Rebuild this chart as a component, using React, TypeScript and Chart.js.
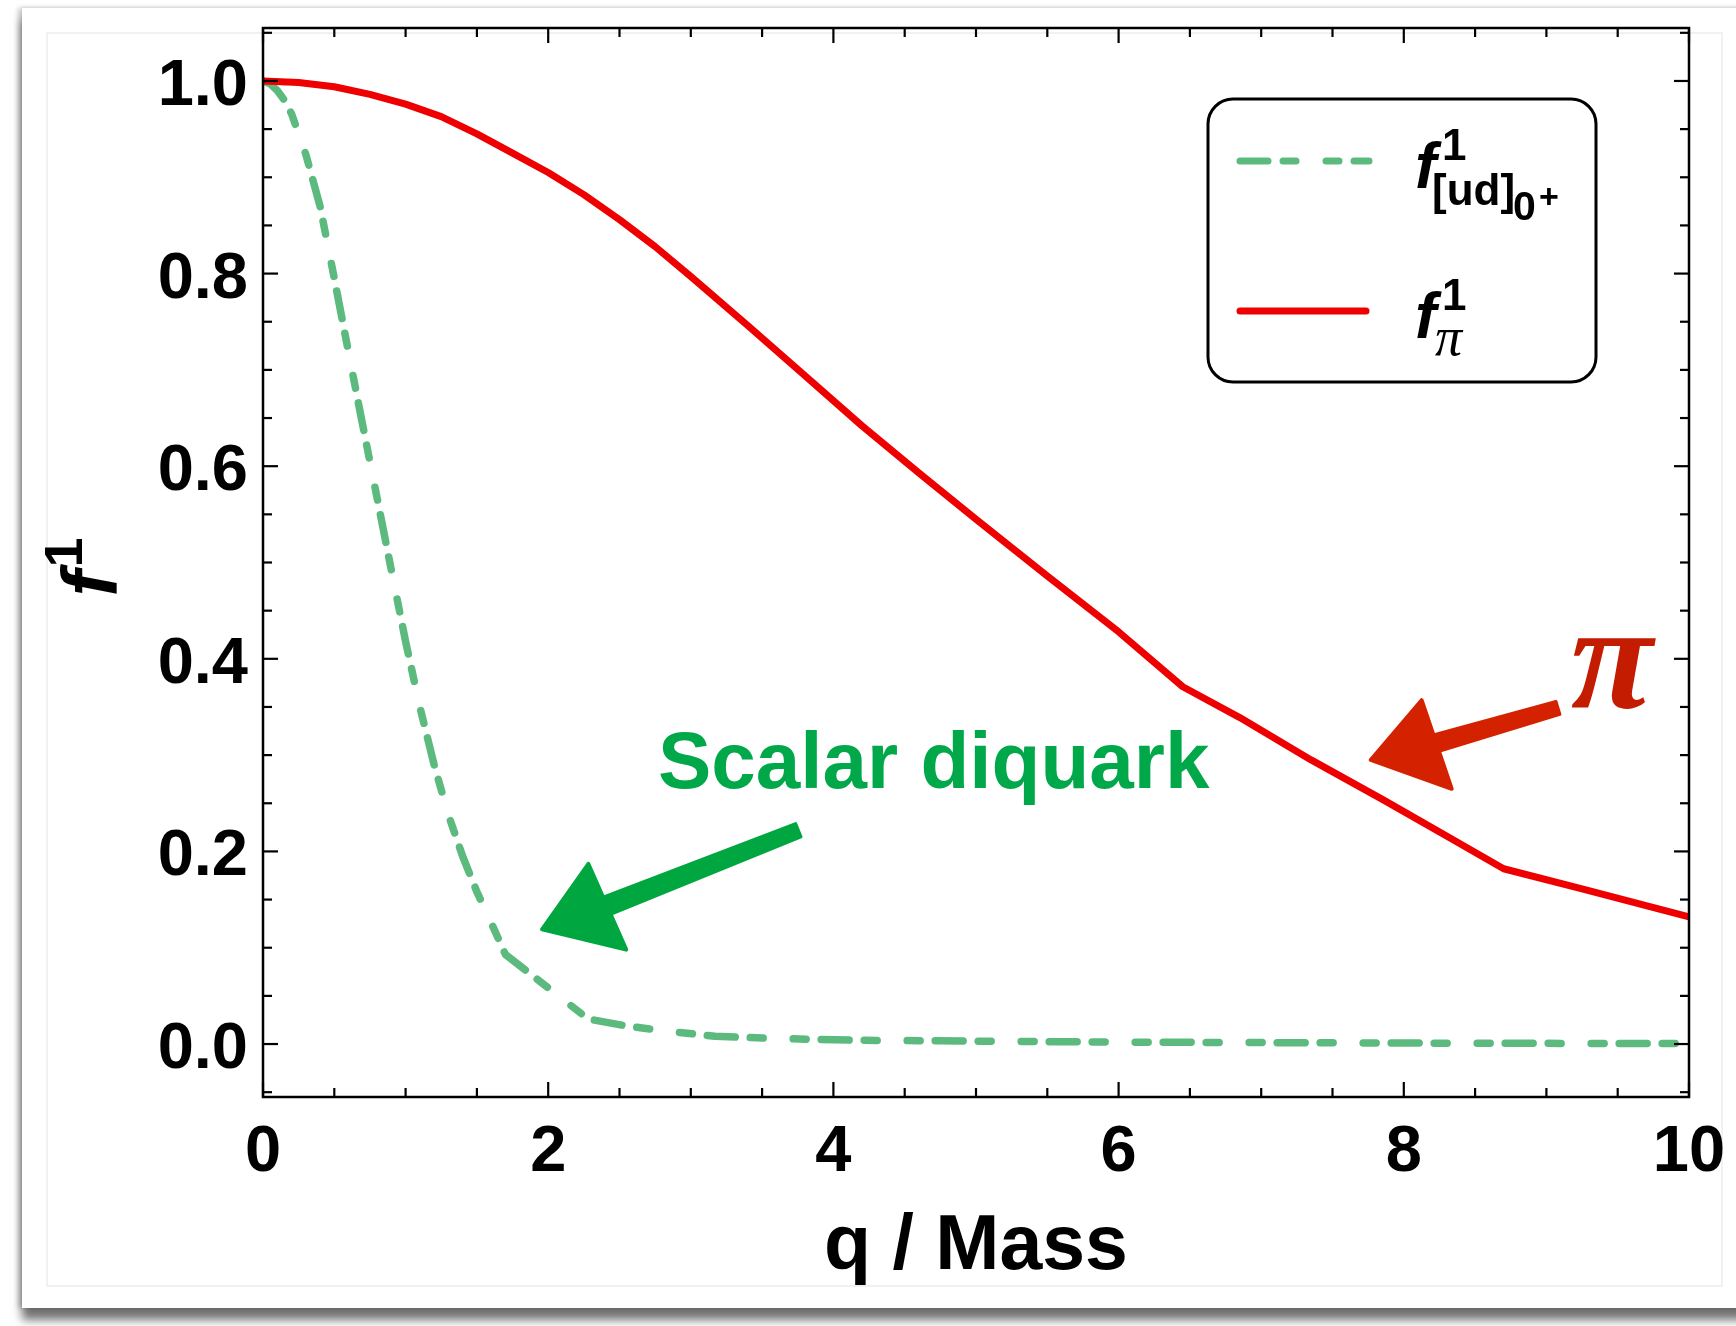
import React, { useEffect, useRef } from "react";
import { Chart, registerables } from "chart.js";

Chart.register(...registerables);

const W = 1736;
const H = 1326;

// ---- data ----
const qPion = [0, 0.25, 0.5, 0.75, 1.0, 1.25, 1.5, 1.75, 2.0, 2.25, 2.5, 2.75, 3.0, 3.4, 3.8, 4.2, 4.6, 5.0, 5.5, 6.0, 6.45, 6.85, 7.35, 7.85, 8.3, 8.7, 9.25, 10.0];
const f1Pion = [1.0, 0.9985, 0.994, 0.986, 0.976, 0.963, 0.945, 0.925, 0.905, 0.882, 0.856, 0.828, 0.797, 0.746, 0.694, 0.642, 0.593, 0.545, 0.486, 0.428, 0.371, 0.339, 0.295, 0.254, 0.216, 0.182, 0.161, 0.132];

const qDiquark = [0, 0.05, 0.1, 0.15, 0.2, 0.3, 0.4, 0.5, 0.6, 0.7, 0.8, 0.9, 1.0, 1.1, 1.2, 1.3, 1.4, 1.5, 1.6, 1.7, 2.28, 2.54, 2.74, 3.17, 3.54, 4.13, 5, 6, 7, 8, 9, 10];
const f1Diquark = [1.0, 0.997, 0.99, 0.98, 0.966, 0.924, 0.87, 0.795, 0.718, 0.642, 0.567, 0.492, 0.418, 0.35, 0.29, 0.238, 0.195, 0.158, 0.126, 0.093, 0.026, 0.019, 0.015, 0.008, 0.006, 0.004, 0.003, 0.002, 0.0015, 0.001, 0.0007, 0.0005];

const xMajorTicks = [0, 2, 4, 6, 8, 10];
const xTickLabels = ["0", "2", "4", "6", "8", "10"];
const xMinorTicks = [0.5, 1, 1.5, 2.5, 3, 3.5, 4.5, 5, 5.5, 6.5, 7, 7.5, 8.5, 9, 9.5];
const yMajorTicks = [0, 0.2, 0.4, 0.6, 0.8, 1.0];
const yTickLabels = ["0.0", "0.2", "0.4", "0.6", "0.8", "1.0"];
const yMinorTicks = [-0.05, 0.05, 0.1, 0.15, 0.25, 0.3, 0.35, 0.45, 0.5, 0.55, 0.65, 0.7, 0.75, 0.85, 0.9, 0.95, 1.05];

const xTitle = "q / Mass";
const annotationDiquark = "Scalar diquark";
const annotationPion = "\u03C0";

const SANS = '"Liberation Sans", Arial, Helvetica, sans-serif';
const SERIF = '"Liberation Serif", "Times New Roman", serif';
const GREEN_LINE = "#5cba7f";
const RED_LINE = "#ee0000";
const GREEN_TEXT = "#00a84a";
const GREEN_ARROW = "#00a640";
const RED_TEXT = "#c41c00";
const RED_ARROW = "#d42200";
const DASH = [28, 15, 13, 30, 13, 15];

const overlayPlugin = {
  id: "overlay",
  afterDatasetsDraw(chart: any) {
    const ctx: CanvasRenderingContext2D = chart.ctx;
    const xs = chart.scales.x;
    const ys = chart.scales.y;
    const { left, right, top, bottom } = chart.chartArea;
    const X = (v: number) => xs.getPixelForValue(v);
    const Y = (v: number) => ys.getPixelForValue(v);
    ctx.save();

    // ---- arrows ----
    const arrow = (tip: number[], hTop: number[], hBot: number[], tail: number[], width: number, color: string) => {
      const t = [X(tip[0]), Y(tip[1])];
      const a = [X(hTop[0]), Y(hTop[1])];
      const b = [X(hBot[0]), Y(hBot[1])];
      const e = [X(tail[0]), Y(tail[1])];
      const m = [(a[0] + b[0]) / 2, (a[1] + b[1]) / 2];
      ctx.fillStyle = color;
      ctx.strokeStyle = color;
      ctx.setLineDash([]);
      ctx.lineJoin = "round";
      ctx.lineCap = "round";
      const dx = e[0] - m[0];
      const dy = e[1] - m[1];
      const len = Math.hypot(dx, dy);
      const nx = -dy / len;
      const ny = dx / len;
      const w0 = width * 0.6;
      const w1 = width * 0.45;
      const s = [t[0] + (m[0] - t[0]) * 0.6, t[1] + (m[1] - t[1]) * 0.6];
      ctx.beginPath();
      ctx.moveTo(s[0] + nx * w0, s[1] + ny * w0);
      ctx.lineTo(e[0] + nx * w1, e[1] + ny * w1);
      ctx.lineTo(e[0] - nx * w1, e[1] - ny * w1);
      ctx.lineTo(s[0] - nx * w0, s[1] - ny * w0);
      ctx.closePath();
      ctx.fill();
      ctx.lineWidth = 3;
      ctx.stroke();
      ctx.lineWidth = 4;
      ctx.beginPath();
      ctx.moveTo(t[0], t[1]);
      ctx.lineTo(a[0], a[1]);
      ctx.lineTo(b[0], b[1]);
      ctx.closePath();
      ctx.fill();
      ctx.stroke();
    };
    arrow([1.957, 0.119], [2.282, 0.187], [2.547, 0.098], [3.754, 0.222], 16, GREEN_ARROW);
    arrow([7.768, 0.295], [8.125, 0.357], [8.336, 0.265], [9.081, 0.349], 15, RED_ARROW);

    // ---- annotation texts ----
    ctx.textBaseline = "alphabetic";
    ctx.textAlign = "left";
    ctx.fillStyle = GREEN_TEXT;
    ctx.font = `bold 80px ${SANS}`;
    ctx.fillText(annotationDiquark, X(2.77), Y(0.266));
    ctx.fillStyle = RED_TEXT;
    ctx.font = `italic bold 150px ${SERIF}`;
    ctx.fillText(annotationPion, X(9.17), Y(0.349));

    // ---- frame ----
    ctx.strokeStyle = "#000";
    ctx.lineCap = "butt";
    ctx.lineJoin = "miter";
    ctx.lineWidth = 2.5;
    ctx.strokeRect(left, top, right - left, bottom - top);

    // ---- ticks (inside, on all four sides) ----
    ctx.lineWidth = 2.2;
    const seg = (x1: number, y1: number, x2: number, y2: number) => {
      ctx.beginPath();
      ctx.moveTo(x1, y1);
      ctx.lineTo(x2, y2);
      ctx.stroke();
    };
    const xTick = (v: number, len: number) => {
      seg(X(v), bottom, X(v), bottom - len);
      seg(X(v), top, X(v), top + len);
    };
    const yTick = (v: number, len: number) => {
      seg(left, Y(v), left + len, Y(v));
      seg(right, Y(v), right - len, Y(v));
    };
    xMajorTicks.forEach((v) => xTick(v, 15));
    xMinorTicks.forEach((v) => xTick(v, 9));
    yMajorTicks.forEach((v) => yTick(v, 15));
    yMinorTicks.forEach((v) => yTick(v, 9));

    // ---- tick labels ----
    ctx.fillStyle = "#000";
    ctx.font = `bold 65px ${SANS}`;
    ctx.textAlign = "right";
    yMajorTicks.forEach((v, i) => ctx.fillText(yTickLabels[i], left - 15, Y(v) + 24));
    ctx.textAlign = "center";
    xMajorTicks.forEach((v, i) => ctx.fillText(xTickLabels[i], X(v), bottom + 74));

    // ---- axis titles ----
    ctx.font = `bold 77px ${SANS}`;
    ctx.fillText(xTitle, (left + right) / 2, bottom + 172);

    ctx.save();
    ctx.translate(left - 146, (top + bottom) / 2 + 34);
    ctx.rotate(-Math.PI / 2);
    ctx.textAlign = "left";
    ctx.font = `italic bold 78px ${SANS}`;
    ctx.fillText("f", 0, 0);
    ctx.font = `bold 54px ${SANS}`;
    ctx.fillText("1", 29, -35);
    ctx.restore();

    // ---- legend ----
    const lx = right - 481;
    const ly = top + 71;
    ctx.beginPath();
    ctx.roundRect(lx, ly, 388, 283, 25);
    ctx.fillStyle = "#fff";
    ctx.fill();
    ctx.lineWidth = 3;
    ctx.strokeStyle = "#000";
    ctx.stroke();

    ctx.lineWidth = 7;
    ctx.lineCap = "round";
    ctx.strokeStyle = GREEN_LINE;
    ctx.setLineDash(DASH);
    seg(lx + 32, ly + 62, lx + 161, ly + 62);
    ctx.setLineDash([]);
    ctx.strokeStyle = RED_LINE;
    seg(lx + 32, ly + 212, lx + 158, ly + 212);

    ctx.fillStyle = "#000";
    ctx.textAlign = "left";
    // f^1_[ud]0+
    ctx.font = `italic bold 64px ${SANS}`;
    ctx.fillText("f", lx + 207, ly + 89);
    ctx.font = `bold 44px ${SANS}`;
    ctx.fillText("1", lx + 234, ly + 61);
    ctx.font = `bold 44px ${SANS}`;
    ctx.fillText("[ud]", lx + 224, ly + 106);
    ctx.font = `bold 41px ${SANS}`;
    ctx.fillText("0", lx + 305, ly + 121);
    ctx.font = `bold 34px ${SANS}`;
    ctx.fillText("+", lx + 331, ly + 109);
    // f^1_pi
    ctx.font = `italic bold 64px ${SANS}`;
    ctx.fillText("f", lx + 207, ly + 239);
    ctx.font = `bold 44px ${SANS}`;
    ctx.fillText("1", lx + 234, ly + 211);
    ctx.font = `italic 54px ${SERIF}`;
    ctx.fillText("\u03C0", lx + 227, ly + 256);

    ctx.restore();
  },
};

export default function App() {
  const ref = useRef<HTMLCanvasElement | null>(null);

  useEffect(() => {
    if (!ref.current) return;
    const chart = new Chart(ref.current, {
      type: "line",
      data: {
        datasets: [
          {
            label: "f1_pi",
            data: qPion.map((q, i) => ({ x: q, y: f1Pion[i] })),
            borderColor: RED_LINE,
            borderWidth: 7,
            borderCapStyle: "round",
            borderJoinStyle: "round",
            pointRadius: 0,
            tension: 0,
            fill: false,
          },
          {
            label: "f1_[ud]0+",
            data: qDiquark.map((q, i) => ({ x: q, y: f1Diquark[i] })),
            borderColor: GREEN_LINE,
            borderWidth: 7.5,
            borderDash: DASH,
            borderCapStyle: "round",
            borderJoinStyle: "round",
            pointRadius: 0,
            tension: 0,
            fill: false,
          },
        ],
      },
      options: {
        animation: false,
        responsive: false,
        devicePixelRatio: 1,
        layout: { padding: { left: 263, top: 28, right: 47, bottom: 229 } },
        scales: {
          x: { type: "linear", min: 0, max: 10, display: false },
          y: { type: "linear", min: -0.055, max: 1.055, display: false },
        },
        plugins: { legend: { display: false }, tooltip: { enabled: false } },
      },
      plugins: [overlayPlugin],
    } as any);
    return () => chart.destroy();
  }, []);

  return (
    <div style={{ position: "fixed", left: 0, top: 0, width: W, height: H, background: "#fff", overflow: "hidden" }}>
      <div
        style={{
          position: "absolute",
          left: 22,
          top: 8,
          width: W,
          height: 1300,
          background: "#fff",
          boxShadow: "-4px 0 5px rgba(0,0,0,0.2), 0 12px 9px rgba(0,0,0,0.55), 0 -1px 3px rgba(0,0,0,0.08)",
        }}
      />
      <div
        style={{
          position: "absolute",
          left: 46,
          top: 32,
          width: 1677,
          height: 1255,
          border: "2px solid #f1f1f1",
          boxSizing: "border-box",
        }}
      />
      <canvas ref={ref} width={W} height={H} style={{ position: "absolute", left: 0, top: 0, width: W, height: H }} />
    </div>
  );
}
